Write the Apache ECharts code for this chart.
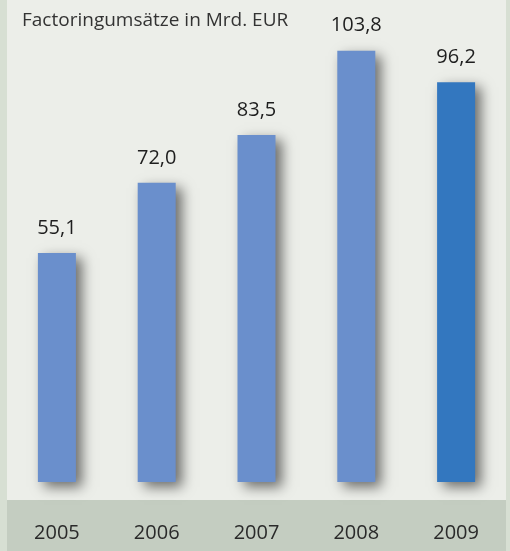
<!DOCTYPE html>
<html lang="de">
<head>
	<meta charset="UTF-8">
	<title>Factoringumsätze</title>
	<style type="text/css">
		html,body{
			padding: 0;
			margin: 0;
		}
		#main,html,body{
			width: 100%;
			height: 100%;
			overflow: hidden;
		}
	</style>
</head>
<body>
	<div id="main"></div>
</body>
<script type="text/javascript" src="https://cdn.jsdelivr.net/npm/echarts@6/dist/echarts.min.js"></script>
<script type="text/javascript">
	var years = ['2005', '2006', '2007', '2008', '2009'];
	var values = [55.1, 72.0, 83.5, 103.8, 96.2];
	var title = 'Factoringumsätze in Mrd. EUR';

	window.onload = function(){
		var myChart = echarts.init(document.getElementById('main'));
		var font = '"Open Sans", "Noto Sans", sans-serif';

		myChart.setOption({
			backgroundColor: '#eceee9',
			animation: false,
			title: {
				text: title,
				left: 22,
				top: 11,
				padding: 0,
				textStyle: {
					fontFamily: font,
					fontSize: 19,
					fontWeight: 'normal',
					color: '#333'
				}
			},
			graphic: [
				{ type: 'rect', z: -10, shape: { x: 0, y: 0, width: 7, height: 551 }, style: { fill: '#d7dfd3' } },
				{ type: 'rect', z: -10, shape: { x: 506, y: 0, width: 4, height: 551 }, style: { fill: '#d7dfd3' } },
				{ type: 'rect', z: -10, shape: { x: 7, y: 500, width: 499, height: 51 }, style: { fill: '#c4cdc1' } }
			],
			grid: {
				left: 7,
				right: 4,
				top: 0,
				bottom: 69
			},
			xAxis: {
				type: 'category',
				data: years,
				axisLine: { show: false },
				axisTick: { show: false },
				axisLabel: {
					margin: 41,
					fontFamily: font,
					fontSize: 20,
					color: '#2a2a2a'
				}
			},
			yAxis: {
				type: 'value',
				min: 0,
				max: 116,
				show: false,
				splitLine: { show: false }
			},
			series: [{
				type: 'bar',
				data: values,
				barWidth: 38,
				itemStyle: {
					color: function(p){
						return p.dataIndex === values.length - 1 ? '#3377bf' : '#6a8fcc';
					},
					shadowColor: 'rgba(0,0,0,0.55)',
					shadowBlur: 12,
					shadowOffsetX: 6,
					shadowOffsetY: 5
				},
				label: {
					show: true,
					position: 'top',
					distance: 15,
					fontFamily: font,
					fontSize: 20,
					color: '#1e1e1e',
					formatter: function(p){
						return p.value.toFixed(1).replace('.', ',');
					}
				}
			}]
		});
	}
</script>
</html>
